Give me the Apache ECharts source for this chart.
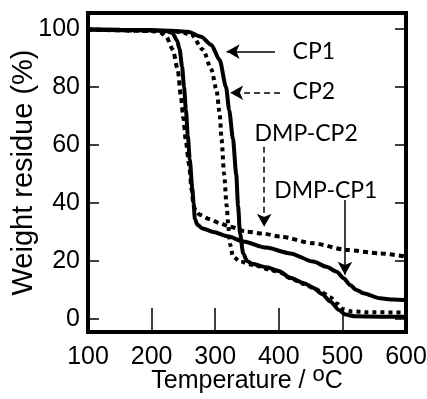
<!DOCTYPE html>
<html>
<head>
<meta charset="utf-8">
<script src="https://cdn.jsdelivr.net/npm/echarts@6/dist/echarts.min.js"></script>
<style>html,body{margin:0;padding:0;background:#fff}#c{width:427px;height:399px}</style>
</head>
<body>
<div id="c"></div>
<script>
// Tick labels
const xTicks = [100, 200, 300, 400, 500, 600];
const yTicks = [0, 20, 40, 60, 80, 100];

// Series: [temperature (°C), weight residue (%)]
const cp1 = [[100,99.8],[150,99.7],[200,99.5],[231,99.4],[257,99],[278,97.3],[294,94.5],[307,89.3],[317,80],[322,72],[328,62],[333,50],[336,39],[339,29.5],[344,22.6],[350,20],[358,19],[381,17.8],[400,16.5],[418,14.2],[440,12.3],[454,10.8],[468,8.6],[481,6],[495,3],[505,1.5],[520,0.9],[560,0.8],[600,0.8]];
const cp2 = [[100,99.8],[200,99.4],[240,99],[262,98.2],[281,92.8],[294,86],[302,79],[307,71],[310,62],[314,50],[318,39],[320.5,32.5],[323,26],[328,21.5],[339,19.8],[360,18.6],[386,17],[402,16],[418,14],[440,12],[454,10.8],[468,9.2],[481,7.5],[492,5.2],[501,3.4],[515,2.6],[540,2.3],[600,2.2]];
const dmpCp1 = [[100,99.8],[200,99.6],[225,99.2],[233,98.6],[240,96],[244,93],[248,87],[251,80],[254,72],[257,63],[260,55],[264,45],[266,40],[268,34.5],[272,32.5],[280,31.2],[297,30],[320,28.5],[344,26.7],[380,24.6],[418,22.6],[454,19.8],[475,18],[491,16.3],[502,14],[512,11.7],[522,10],[533,8.9],[559,7.1],[580,6.7],[600,6.5]];
const dmpCp2 = [[100,99.8],[200,99.3],[215,98.6],[223,97.3],[233.5,92.8],[241,86],[246,77],[250,69],[254,61],[259,53],[263,44.5],[266,39],[270,37],[276,35.9],[290,34.5],[307.5,33],[323,31.8],[349,30.1],[376,29.4],[402,28.4],[454,26.1],[507,23.8],[559,22.6],[600,21.5]];

// Annotations (data coordinates)
const labels = [
  {name: 'CP1', coord: [455, 92.2]},
  {name: 'CP2', coord: [455, 78.4]},
  {name: 'DMP-CP2', coord: [443, 64]},
  {name: 'DMP-CP1', coord: [474, 44.1]}
];
const arrows = [
  {from: [394, 92.2], to: [318, 92.2], dashed: false},
  {from: [402, 78], to: [323.5, 78], dashed: true},
  {from: [377, 59.4], to: [377, 31.8], dashed: true},
  {from: [504, 41], to: [504, 15.2], dashed: false}
];

const chart = echarts.init(document.getElementById('c'), null, {renderer: 'canvas'});
const black = '#000';
const arial = 'Liberation Sans, Arial, sans-serif';
const tickFont = {fontFamily: arial, fontSize: 25, color: black};

function mkSeries(name, data, type) {
  return {
    name, type: 'line', data, showSymbol: false, symbol: 'none',
    smooth: 0.25, smoothMonotone: 'x', clip: true,
    lineStyle: {color: black, width: 4, type: type, cap: 'butt'},
    z: 3
  };
}

chart.setOption({
  animation: false,
  backgroundColor: '#fff',
  grid: {left: 88, right: 21, top: 13, bottom: 67, containLabel: false, outerBoundsMode: 'none',
    show: true, borderColor: black, borderWidth: 4, backgroundColor: 'transparent'},
  xAxis: [{
    type: 'value', min: 100, max: 600, position: 'bottom',
    axisLine: {show: false},
    axisTick: {show: true, inside: true, length: 11, lineStyle: {color: black, width: 1.5}, customValues: xTicks},
    axisLabel: {show: true, margin: 13, customValues: xTicks, alignMinLabel: 'center', alignMaxLabel: 'center', ...tickFont},
    splitLine: {show: false},
    name: '{t|Temperature / }{sup|o}{t|C}', nameLocation: 'middle', nameGap: 32, nameMoveOverlap: false,
    nameTextStyle: {fontFamily: arial, fontSize: 25, color: black,
      rich: {
        t: {fontFamily: arial, fontSize: 25, color: black, lineHeight: 30, verticalAlign: 'bottom'},
        sup: {fontFamily: arial, fontSize: 22, color: black, lineHeight: 18, verticalAlign: 'top'}
      }}
  }, {
    type: 'value', min: 100, max: 600, position: 'top',
    axisLine: {show: false},
    axisTick: {show: true, inside: true, length: 11, lineStyle: {color: black, width: 1.5}, customValues: xTicks},
    axisLabel: {show: false}, splitLine: {show: false}
  }],
  yAxis: [{
    type: 'value', min: -4.5, max: 105.5, position: 'left',
    axisLine: {show: false},
    axisTick: {show: true, inside: true, length: 11, lineStyle: {color: black, width: 1.5}, customValues: yTicks},
    axisLabel: {show: true, margin: 8, customValues: yTicks, ...tickFont},
    splitLine: {show: false},
    name: 'Weight residue (%)', nameLocation: 'middle', nameGap: 50, nameRotate: 90, nameMoveOverlap: false,
    nameTextStyle: {fontFamily: arial, fontSize: 29, color: black}
  }, {
    type: 'value', min: -4.5, max: 105.5, position: 'right',
    axisLine: {show: false},
    axisTick: {show: true, inside: true, length: 11, lineStyle: {color: black, width: 1.5}, customValues: yTicks},
    axisLabel: {show: false}, splitLine: {show: false}
  }],
  series: [
    mkSeries('CP1', cp1, 'solid'),
    mkSeries('CP2', cp2, [4, 4]),
    mkSeries('DMP-CP1', dmpCp1, 'solid'),
    mkSeries('DMP-CP2', dmpCp2, [5, 4]),
    {
      name: 'annot', type: 'line', data: [], silent: true, z: 5,
      markLine: {
        silent: true, animation: false,
        symbol: ['none', 'arrow'], symbolSize: [11, 13],
        label: {show: false},
        emphasis: {disabled: true},
        data: arrows.map(a => [
          {coord: a.from, lineStyle: {color: black, width: 1.5, type: a.dashed ? [6, 4] : 'solid'}},
          {coord: a.to}
        ])
      },
      markPoint: {
        silent: true, animation: false,
        symbol: 'circle', symbolSize: 0,
        itemStyle: {color: 'transparent'},
        label: {show: true, position: 'inside', formatter: p => p.name,
          fontFamily: 'Lato, Open Sans, sans-serif', fontSize: 23, color: black},
        data: labels.map(l => ({name: l.name, coord: l.coord}))
      }
    }
  ]
});
</script>
</body>
</html>
